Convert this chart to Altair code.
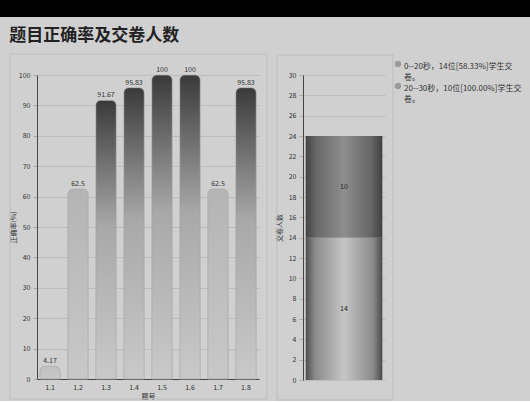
import altair as alt
import pandas as pd

# ---- data ----
questions = ["1.1", "1.2", "1.3", "1.4", "1.5", "1.6", "1.7", "1.8"]
accuracy = [4.17, 62.5, 91.67, 95.83, 100, 100, 62.5, 95.83]

time_ranges = ["0--20秒", "20--30秒"]
submit_counts = [14, 10]
submit_pcts = ["58.33%", "100.00%"]

title_text = "题目正确率及交卷人数"
FONT = "Noto Sans CJK SC"

acc_df = pd.DataFrame({"q": questions, "v": accuracy})
cnt_df = pd.DataFrame({"r": time_ranges, "n": submit_counts, "o": list(range(len(time_ranges))), "x": [""] * len(time_ranges)})
leg_txt = []
for r, n, p in zip(time_ranges, submit_counts, submit_pcts):
    s = f"{r}，{n}位[{p}]学生交卷。"
    leg_txt.append(s[:-2] + "\n" + s[-2:])
leg_df = pd.DataFrame({"i": list(range(len(leg_txt))), "t": leg_txt})
one = pd.DataFrame({"a": [0]})


def vgrad(stops):
    return {"gradient": "linear", "x1": 0, "y1": 0, "x2": 0, "y2": 1,
            "stops": [{"offset": o, "color": c} for o, c in stops]}


def hgrad(stops):
    return {"gradient": "linear", "x1": 0, "y1": 0, "x2": 1, "y2": 0,
            "stops": [{"offset": o, "color": c} for o, c in stops]}


g_tall = vgrad([(0, "#3a3a3a"), (0.45, "#a8a8a8"), (1, "#c9c9c9")])
g_mid = vgrad([(0, "#b4b4b4"), (1, "#c8c8c8")])
g_low = vgrad([(0, "#c0c0c0"), (1, "#c8c8c8")])
s_tall = vgrad([(0, "#222222"), (0.5, "#9a9a9a"), (1, "#bdbdbd")])

g_bot = hgrad([(0, "#505050"), (0.12, "#8a8a8a"), (0.5, "#c6c6c6"), (0.88, "#8a8a8a"), (1, "#4a4a4a")])
g_top = hgrad([(0, "#454545"), (0.15, "#6a6a6a"), (0.5, "#8e8e8e"), (0.85, "#666666"), (1, "#404040")])

axis_common = dict(labelFont=FONT, titleFont=FONT, labelFontSize=7, titleFontSize=7,
                   labelColor="#333333", titleColor="#333333", titleFontWeight="normal",
                   domainColor="#444444", gridColor="#bcbcbc", tickColor="#aaaaaa",
                   labelOverlap=False)

PANEL_STROKE = "#bdbdbd"

# ---- left chart: accuracy ----
frame_l = alt.Chart(one).mark_rect(fillOpacity=0, stroke=PANEL_STROKE, strokeWidth=1).encode(
    x=alt.value(-27), x2=alt.value(230), y=alt.value(-21), y2=alt.value(324))
base_l = alt.Chart(acc_df).encode(
    x=alt.X("q:N", sort=questions,
            scale=alt.Scale(paddingInner=0.27, paddingOuter=0.1),
            axis=alt.Axis(title="题号", labelAngle=0, ticks=False, grid=False,
                          labelPadding=4, titlePadding=2, **axis_common)),
    y=alt.Y("v:Q", scale=alt.Scale(domain=[0, 100], nice=False),
            axis=alt.Axis(title="正确率(%)", values=list(range(0, 101, 10)), tickSize=4,
                          labelPadding=3, titlePadding=2, **axis_common)),
)
bars_l = base_l.mark_bar(cornerRadiusTopLeft=5, cornerRadiusTopRight=5, strokeWidth=0.8).encode(
    color={"condition": [{"test": "datum.v >= 90", "value": g_tall},
                         {"test": "datum.v >= 50", "value": g_mid}],
           "value": g_low},
    stroke={"condition": [{"test": "datum.v >= 90", "value": s_tall}], "value": "#b0b0b0"},
)
text_l = base_l.mark_text(dy=-5, fontSize=7, font=FONT, color="#333333").encode(
    text=alt.Text("v:Q", format=".4~r"))
left = alt.layer(frame_l, bars_l, text_l).properties(width=222, height=304)

# ---- right chart: submit counts ----
y_axis_r = alt.Axis(title="交卷人数", values=list(range(0, 31, 2)), tickSize=4,
                    labelPadding=3, titlePadding=6, **axis_common)
y_scale_r = alt.Scale(domain=[0, 30], nice=False)
frame_r = alt.Chart(one).mark_rect(fillOpacity=0, stroke=PANEL_STROKE, strokeWidth=1).encode(
    x=alt.value(-26), x2=alt.value(90), y=alt.value(-20), y2=alt.value(325))
base_r = alt.Chart(cnt_df).transform_stack(
    stack="n", groupby=["x"], as_=["y0", "y1"], sort=[alt.SortField("o", order="ascending")]
).transform_calculate(mid="(datum.y0 + datum.y1) / 2")
bars_r = base_r.mark_bar().encode(
    x=alt.X("x:N", axis=None, scale=alt.Scale(paddingInner=0, paddingOuter=0.035)),
    y=alt.Y("y0:Q", scale=y_scale_r, axis=y_axis_r),
    y2="y1:Q",
    color={"condition": [{"test": "datum.o == 0", "value": g_bot}], "value": g_top},
)
text_r = base_r.mark_text(fontSize=7, font=FONT, color="#222222").encode(
    x=alt.X("x:N", axis=None), y=alt.Y("mid:Q", scale=y_scale_r, axis=y_axis_r), text="n:Q")
right = alt.layer(frame_r, bars_r, text_r).properties(width=82, height=305)

# ---- legend panel ----
leg_base = alt.Chart(leg_df).encode(
    y=alt.Y("i:O", axis=None, scale=alt.Scale(padding=0.5)))
leg_pts = leg_base.mark_circle(size=40, color="#9a9a9a", opacity=1, yOffset=-22).encode(x=alt.value(-31))
leg_txt_m = leg_base.mark_text(align="left", baseline="middle", fontSize=8, font=FONT,
                               color="#333333", lineBreak="\n", lineHeight=11, dy=3, yOffset=-22).encode(
    x=alt.value(-25), text="t:N")
legend = alt.layer(leg_pts, leg_txt_m).properties(width=100, height=44)

body = alt.hconcat(left, right, legend, spacing=44, bounds="flush").properties(
    title=alt.TitleParams(title_text, anchor="start", fontSize=17, font=FONT,
                          fontWeight="bold", color="#222222", offset=9))

strip = alt.Chart(one).mark_rect(color="#000000").encode(
    x=alt.value(-37), x2=alt.value(493), y=alt.value(0), y2=alt.value(17)
).properties(width=1, height=17)

chart = alt.concat(strip, body, columns=1, spacing=9,
                   align={"row": "each", "column": "all"}).properties(
    background="#d0d0d0", padding=0
).configure_view(stroke=None)

chart.save("out.html", embed_options={"renderer": "svg", "actions": False})
